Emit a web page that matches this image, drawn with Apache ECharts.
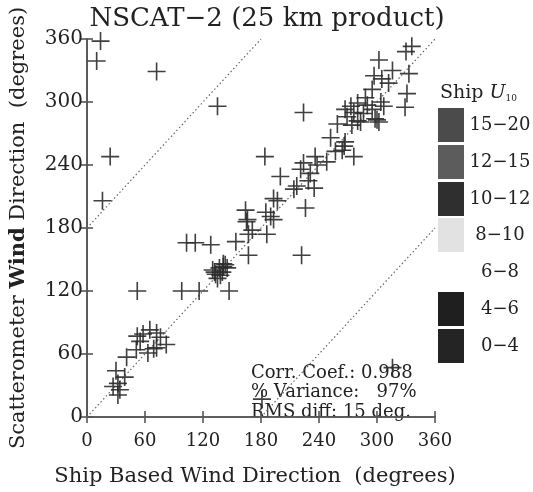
<!DOCTYPE html>
<html>
<head>
<meta charset="utf-8">
<script src="https://cdn.jsdelivr.net/npm/echarts@6/dist/echarts.min.js"></script>
<style>html,body{margin:0;padding:0;background:#fff;}#c{width:533px;height:492px;}</style>
</head>
<body>
<div id="c"></div>
<script>
// Data: [ship direction, scatterometer direction] in degrees
const outliers = [[14,358],[10,339],[72,329],[135,296],[24,248],[16,206],[52,120],[224,290],[184,248],[222,154],[181,17],[316,47]];
const topCluster = [[336,353],[330,348],[302,340],[316,330],[333,327],[297,325],[305,322],[312,318],[295,312],[331,308],[329,295],[288,304],[304,300],[280,299],[273,296],[290,297],[307,296],[267,293],[276,290],[286,289],[295,293],[298,284],[269,286],[280,282],[302,281],[259,279],[274,278],[252,266],[266,258],[257,253],[276,248],[300,283],[283,281],[267,262],[264,254]];
const midCluster = [[236,248],[224,242],[238,240],[248,243],[221,236],[231,232],[200,229],[229,225],[217,220],[214,217],[235,218],[193,208],[197,206],[164,197],[185,195],[190,191],[226,199],[166,188],[165,186],[171,178],[186,174],[167,174],[167,154],[193,188]];
const lowMidCluster = [[103,166],[112,166],[128,164],[154,167],[98,120],[116,120],[147,120],[141,143],[130,140],[133,136],[137,142],[140,138],[135,132],[143,145],[145,142],[138,135],[141,146],[132,138]];
const lowCluster = [[65,83],[58,79],[52,77],[72,80],[82,69],[76,76],[51,64],[63,61],[69,65],[41,57],[72,66],[30,44],[39,38],[32,32],[27,29],[34,26],[32,21],[55,72]];
const xTicks = [0,60,120,180,240,300,360];
const yTicks = [0,60,120,180,240,300,360];
const refLines = [[[0,0],[360,360]],[[0,180],[180,360]],[[180,0],[360,180]]];
const legendLabels = ['15\u221220','12\u221215','10\u221212','8\u221210','6\u22128','4\u22126','0\u22124'];
const legendColors = ['#4b4b4b','#5c5c5c','#2f2f2f','#e2e2e2','#ffffff','#1f1f1f','#242424'];
const statsText = ['Corr. Coef.: 0.988','% Variance:   97%','RMS diff: 15 deg.'];

const allPoints = outliers.concat(topCluster, midCluster, lowMidCluster, lowCluster);
const FONT = 'DejaVu Serif';
const plusPath = 'path://M-0.9,-10 L0.9,-10 L0.9,-0.9 L10,-0.9 L10,0.9 L0.9,0.9 L0.9,10 L-0.9,10 L-0.9,0.9 L-10,0.9 L-10,-0.9 L-0.9,-0.9 Z';

const chart = echarts.init(document.getElementById('c'), null, {renderer:'canvas'});
const G = {left:87, top:39, width:348, height:389};
const axisLineStyle = {color:'#555', width:1.6};

const graphics = [];
graphics.push({type:'text', left:440, top:84, style:{
  text:'{s|Ship} {u|U}{sub|10}', font:'19px '+FONT, fill:'#222',
  rich:{s:{fontFamily:FONT,fontSize:19,fill:'#222'}, u:{fontFamily:FONT,fontSize:19,fontStyle:'italic',fill:'#222'}, sub:{fontFamily:FONT,fontSize:9,fill:'#222',verticalAlign:'bottom',padding:[10,0,0,0]}}
}});
const boxTops = [108,145,182,218,255,292,329];
legendLabels.forEach((lab,i)=>{
  if (legendColors[i] !== '#ffffff') {
    graphics.push({type:'rect', shape:{x:438,y:boxTops[i],width:26,height:34}, style:{fill:legendColors[i]}});
  }
  graphics.push({type:'text', x:500, y:boxTops[i]+17, style:{text:lab, fontFamily:FONT, fontSize:18, fill:'#222', align:'center', verticalAlign:'middle'}});
});
statsText.forEach((t,i)=>{
  graphics.push({type:'text', x:251, y:373+i*19.5, style:{text:t, fontFamily:FONT, fontSize:18, fill:'#222', verticalAlign:'middle'}});
});

const series = [];
refLines.forEach(seg=>{
  series.push({type:'line', xAxisIndex:0, yAxisIndex:0, data:seg, symbol:'none', silent:true,
    lineStyle:{color:'#666', width:1.2, type:[1.5,2.5]}, z:1});
});
series.push({type:'scatter', xAxisIndex:0, yAxisIndex:0, data:allPoints, symbol:plusPath, symbolSize:18,
  symbolKeepAspect:true, itemStyle:{color:'#2b2b2b', opacity:0.9}, z:3});

chart.setOption({
  animation:false,
  backgroundColor:'#fff',
  title:{text:'NSCAT\u22122 (25 km product)', left:262, top:1, textAlign:'center',
    textStyle:{fontFamily:FONT, fontSize:26, fontWeight:'normal', color:'#222'}},
  grid:G,
  xAxis:[
    {type:'value', min:0, max:360, interval:60, position:'bottom',
     axisLine:{show:true, lineStyle:axisLineStyle}, axisTick:{inside:true, length:6, lineStyle:axisLineStyle},
     splitLine:{show:false},
     axisLabel:{fontFamily:FONT, fontSize:18, color:'#222', margin:15, formatter:v=>xTicks.includes(v)?String(v):''},
     name:'Ship Based Wind Direction  (degrees)', nameLocation:'middle', nameGap:49,
     nameTextStyle:{fontFamily:FONT, fontSize:21, color:'#222', padding:[0,12,0,0]}},
    {type:'value', min:0, max:360, interval:60, position:'top',
     axisLine:{show:true, lineStyle:axisLineStyle}, axisTick:{inside:true, length:6, lineStyle:axisLineStyle},
     splitLine:{show:false}, axisLabel:{show:false}}
  ],
  yAxis:[
    {type:'value', min:0, max:360, interval:60, position:'left',
     axisLine:{show:true, lineStyle:axisLineStyle}, axisTick:{inside:true, length:6, lineStyle:axisLineStyle},
     splitLine:{show:false},
     axisLabel:{fontFamily:FONT, fontSize:20, color:'#222', margin:4, formatter:v=>yTicks.includes(v)?String(v):''},
     name:'{a|Scatterometer }{b|Wind}{a| Direction  (degrees)}', nameLocation:'middle', nameGap:58,
     nameTextStyle:{fontFamily:FONT, fontSize:21, color:'#222',
       rich:{a:{fontFamily:FONT, fontSize:21, color:'#222'}, b:{fontFamily:FONT, fontSize:21, fontWeight:'bold', color:'#222'}}}},
    {type:'value', min:0, max:360, interval:60, position:'right',
     axisLine:{show:true, lineStyle:axisLineStyle}, axisTick:{inside:true, length:6, lineStyle:axisLineStyle},
     splitLine:{show:false}, axisLabel:{show:false}}
  ],
  series:series,
  graphic:graphics
});
</script>
</body>
</html>
